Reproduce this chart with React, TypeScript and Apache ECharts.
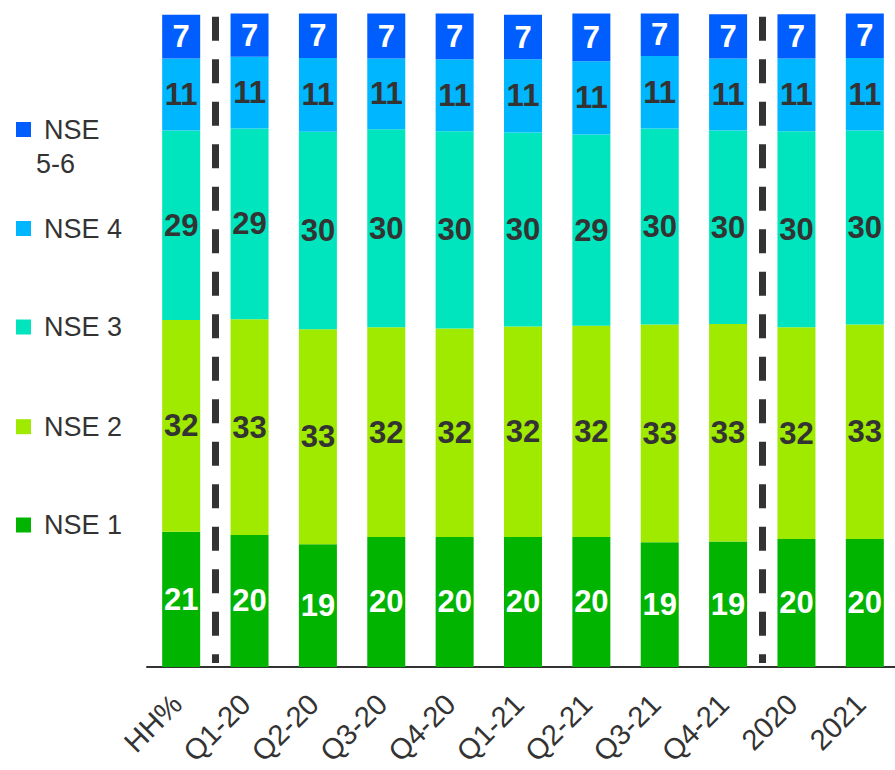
import React, { useEffect, useRef } from "react";
import * as echarts from "echarts";

const categories = ["HH%", "Q1-20", "Q2-20", "Q3-20", "Q4-20", "Q1-21", "Q2-21", "Q3-21", "Q4-21", "2020", "2021"];
const nse1 = [20.7, 20.2, 18.8, 19.9, 19.9, 19.9, 19.9, 19.1, 19.2, 19.6, 19.6];
const nse2 = [32.4, 33.0, 32.9, 32.1, 31.9, 32.2, 32.3, 33.3, 33.3, 32.4, 32.8];
const nse3 = [29.0, 29.2, 30.2, 30.3, 30.2, 29.7, 29.3, 30.0, 29.6, 30.0, 29.7];
const nse4 = [11.0, 11.0, 11.3, 10.8, 11.0, 11.2, 11.2, 11.1, 11.0, 11.1, 11.1];
const nse56 = [6.7, 6.6, 6.8, 6.9, 7.0, 6.8, 7.3, 6.7, 6.8, 6.8, 7.0];
// dashed separators sit between these category indices (value-axis units)
const separators = [0.5, 8.5];

const FONT = "Liberation Sans, Arial, sans-serif";

export default function App() {
  const ref = useRef<HTMLDivElement>(null);
  useEffect(() => {
    document.body.style.margin = "0";
    const chart = echarts.init(ref.current!, null, { renderer: "svg" });
    const seriesDefs = [
      { name: "NSE 1", data: nse1, color: "#00B400", label: "#FFFFFF" },
      { name: "NSE 2", data: nse2, color: "#A0EA00", label: "#333333" },
      { name: "NSE 3", data: nse3, color: "#00E5BD", label: "#333333" },
      { name: "NSE 4", data: nse4, color: "#00B6FF", label: "#333333" },
      { name: "NSE 5-6", data: nse56, color: "#005EFF", label: "#FFFFFF" },
    ];
    const legendOrder = ["NSE 5-6", "NSE 4", "NSE 3", "NSE 2", "NSE 1"];
    const legendTops = [78.5, 211.5, 310, 409.7, 508];
    const legends = legendOrder.map((n, i) => ({
      data: [n],
      orient: "vertical",
      left: 16,
      top: legendTops[i],
      padding: 0,
      itemWidth: 15,
      itemHeight: 15,
      icon: "rect",
      selectedMode: false,
      formatter: (name: string) =>
        name === "NSE 5-6" ? "{a|NSE}\n{b|5-6}" : "{a|" + name + "}",
      textStyle: {
        fontFamily: FONT,
        fontSize: 27,
        color: "#333333",
        lineHeight: 34,
        padding: n === "NSE 5-6" ? [34, 0, 0, 0] : [0, 0, 0, 0],
        rich: {
          a: { fontFamily: FONT, fontSize: 27, color: "#333333", lineHeight: 34, padding: [0, 0, 0, 8] },
          b: { fontFamily: FONT, fontSize: 27, color: "#333333", lineHeight: 34, padding: [0, 0, 0, 0] },
        },
      },
    }));
    const option: any = {
      animation: false,
      grid: { left: 147, top: 13.5, width: 752, bottom: 103, containLabel: false, outerBoundsMode: "none" },
      legend: legends,
      xAxis: [
        {
          type: "category",
          data: categories,
          axisLine: { lineStyle: { color: "#333333", width: 2 } },
          axisTick: { show: false },
          axisLabel: {
            rotate: 45,
            interval: 0,
            fontSize: 29,
            lineHeight: 22,
            fontFamily: FONT,
            color: "#333333",
            margin: 28,
            padding: [0, 6, 0, 0],
          },
        },
        { type: "value", min: -0.5, max: 10.5, show: false },
      ],
      yAxis: { type: "value", min: 0, max: 100, show: false },
      series: [
        ...seriesDefs.map((s) => ({
          name: s.name,
          type: "bar",
          stack: "total",
          barWidth: 38,
          data: s.data,
          itemStyle: { color: s.color },
          label: {
            show: true,
            position: "inside",
            fontFamily: FONT,
            fontSize: 31,
            fontWeight: "bold",
            color: s.label,
            formatter: (p: any) => String(Math.round(p.value)),
          },
        })),
        {
          type: "line",
          xAxisIndex: 1,
          yAxisIndex: 0,
          data: [],
          markLine: {
            silent: true,
            symbol: "none",
            label: { show: false },
            lineStyle: { color: "#333333", width: 7, type: [24, 18.5], cap: "butt" },
            data: separators.map((x) => [
              { coord: [x, 99.5] },
              { coord: [x, 0.6] },
            ]),
          },
        },
      ],
    };
    chart.setOption(option);
    return () => chart.dispose();
  }, []);
  return <div ref={ref} style={{ width: 895, height: 770 }} />;
}
